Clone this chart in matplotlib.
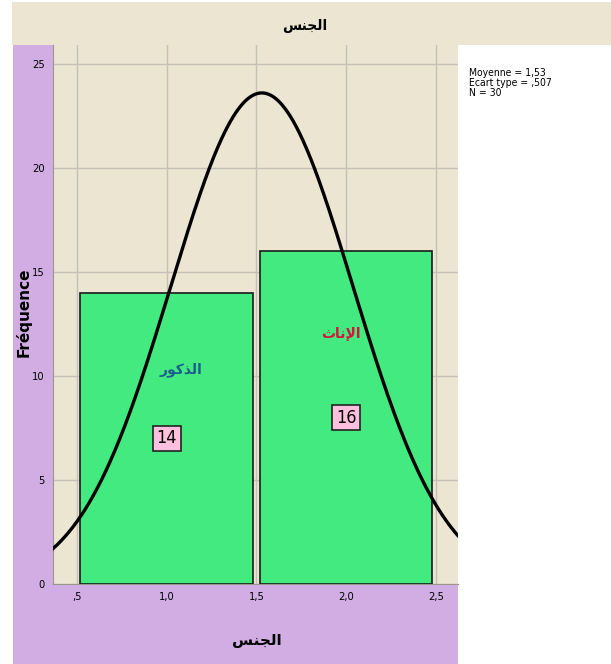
import numpy as np
import matplotlib
matplotlib.use("Agg")
import matplotlib.pyplot as plt
from matplotlib.patches import Rectangle
from matplotlib import font_manager

# ---- data ----
categories = [1, 2]
counts = [14, 16]
cat_labels = ["\uFEAD\uFEEE\uFEDB\uFEAC\uFEDF\uFE8D", "\uFE99\uFE8E\uFEE7\uFEF9\uFE8D"]  # الذكور, الإناث (shaped, visual order)
cat_colors = ["#1B5E8C", "#D4143C"]
mean_v = 1.53
sd_v = 0.507
n_v = 30
xticks = [0.5, 1.0, 1.5, 2.0, 2.5]
xtick_labels = [",5", "1,0", "1,5", "2,0", "2,5"]
yticks = [0, 5, 10, 15, 20, 25]
title_txt = "\uFEB2\uFEE8\uFEA0\uFEDF\uFE8D"  # الجنس
legend_lines = ["Moyenne = 1,53", "Ecart type = ,507", "N = 30"]

names = {f.name for f in font_manager.fontManager.ttflist}
narrow = "Liberation Sans Narrow" if "Liberation Sans Narrow" in names else "DejaVu Sans"

W, H = 611, 664
fig = plt.figure(figsize=(W / 100, H / 100), dpi=100)
fig.patch.set_facecolor("white")

beige = "#ECE5D2"
purple = "#D1ADE4"
green = "#42EA80"

def fx(px):
    return px / W

def fy(py):
    return 1 - py / H

# title band
fig.patches.append(Rectangle((fx(12), fy(45)), fx(611 - 12), (45 - 2) / H,
                             transform=fig.transFigure, facecolor=beige, edgecolor="none", zorder=0))
# purple panel
fig.patches.append(Rectangle((fx(13), fy(664)), fx(458 - 13), (664 - 45) / H,
                             transform=fig.transFigure, facecolor=purple, edgecolor="none", zorder=0))

ax = fig.add_axes([fx(53), fy(584), fx(458 - 53), (584 - 45) / H])
ax.set_zorder(2)
ax.set_facecolor(beige)
ax.set_xlim(0.367, 2.622)
ax.set_ylim(0, 25.91)

ax.bar(categories, counts, width=0.96, color=green, edgecolor="#1a1a1a", linewidth=1.2, zorder=3)

xs = np.linspace(0.367, 2.622, 400)
pdf = n_v * 1.0 / (sd_v * np.sqrt(2 * np.pi)) * np.exp(-0.5 * ((xs - mean_v) / sd_v) ** 2)
ax.plot(xs, pdf, color="black", linewidth=2.4, zorder=4)

ax.set_xticks(xticks)
ax.set_xticklabels(xtick_labels)
ax.set_yticks(yticks)
ax.set_yticklabels([str(v) for v in yticks])
ax.tick_params(length=0, labelsize=8, pad=6)
for lab in ax.get_xticklabels() + ax.get_yticklabels():
    lab.set_fontfamily(narrow)
    lab.set_fontstretch("condensed")
ax.grid(True, color="#C4C0B8", linewidth=1.0, zorder=1)
ax.set_axisbelow(True)
for s in ax.spines.values():
    s.set_visible(False)
ax.spines["left"].set_visible(True)
ax.spines["left"].set_color("#9A968E")
ax.spines["bottom"].set_visible(True)
ax.spines["bottom"].set_color("#9A968E")

# category labels inside bars
ax.text(1.08, 10.3, cat_labels[0], color=cat_colors[0], fontsize=10, fontweight="bold",
        ha="center", va="center", family="DejaVu Sans", zorder=5)
ax.text(1.97, 12.0, cat_labels[1], color=cat_colors[1], fontsize=10, fontweight="bold",
        ha="center", va="center", family="DejaVu Sans", zorder=5)
# value boxes
box = dict(boxstyle="square,pad=0.2", facecolor="#FFC0E0", edgecolor="#222222", linewidth=1.2)
ax.text(1.0, counts[0] / 2, str(counts[0]), fontsize=13, ha="center", va="center",
        bbox=box, family=narrow, fontstretch="condensed", zorder=5)
ax.text(2.0, counts[1] / 2, str(counts[1]), fontsize=13, ha="center", va="center",
        bbox=box, family=narrow, fontstretch="condensed", zorder=5)

# titles
fig.text(fx(305), fy(26), title_txt, fontsize=10, fontweight="bold", ha="center", va="center",
         family="DejaVu Sans")
fig.text(fx(257), fy(640), title_txt, fontsize=11, fontweight="bold", ha="center", va="center",
         family="DejaVu Sans")
fig.text(fx(24), fy(312), "Fréquence", fontsize=11, fontweight="bold", rotation=90,
         ha="center", va="center", family="DejaVu Sans")

# stats legend
fig.text(fx(469), fy(68), "\n".join(legend_lines), fontsize=7.5, ha="left", va="top",
         linespacing=1.0, family=narrow, fontstretch="condensed")

fig.savefig("out.png", dpi=100, facecolor="white")
